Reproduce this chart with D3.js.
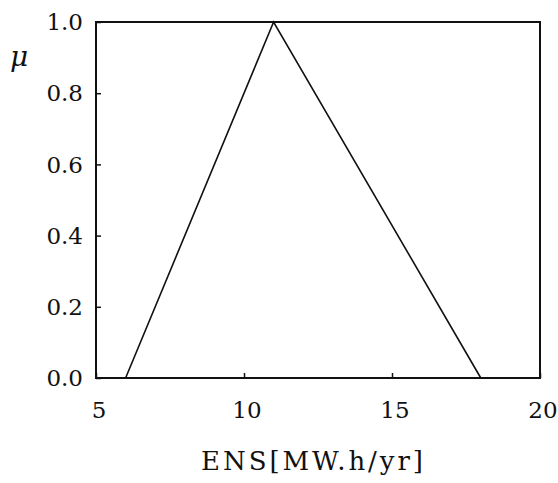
<!DOCTYPE html>
<html><head><meta charset="utf-8">
<script src="https://cdn.jsdelivr.net/npm/d3@7"></script>
<style>html,body{margin:0;padding:0;background:#fff;}svg{display:block;}</style>
</head><body>
<script>
const ensValues = [6, 11, 18];
const muValues = [0, 1, 0];
const xTicks = [5, 10, 15, 20];
const yTicks = [0, 0.2, 0.4, 0.6, 0.8, 1.0];
const xTitle = "ENS[MW.h/yr]";
const yTitle = "\u03bc";

const W = 558, H = 483;
const m = {left: 96, right: 18, top: 22, bottom: 105};
const svg = d3.select("body").append("svg").attr("width", W).attr("height", H);
const x = d3.scaleLinear().domain([5, 20]).range([m.left, W - m.right]);
const y = d3.scaleLinear().domain([0, 1]).range([H - m.bottom, m.top]);
const font = "'DejaVu Serif', serif";

// frame
svg.append("rect").attr("x", x(5)).attr("y", y(1))
  .attr("width", x(20) - x(5)).attr("height", y(0) - y(1))
  .attr("fill", "none").attr("stroke", "#111").attr("stroke-width", 2);

// y axis
const ya = svg.append("g").attr("transform", `translate(${x(5)},0)`)
  .call(d3.axisRight(y).tickValues(yTicks).tickSize(5).tickFormat(""));
ya.select(".domain").remove();
ya.selectAll("line").attr("stroke", "#111").attr("stroke-width", 1.5);
svg.selectAll(".ylab").data(yTicks).enter().append("text")
  .attr("x", x(5) - 13).attr("y", d => y(d)).attr("dy", "0.36em")
  .attr("text-anchor", "end").attr("font-family", font).attr("font-size", 23)
  .attr("fill", "#111").text(d => d3.format(".1f")(d));

// x axis
const xa = svg.append("g").attr("transform", `translate(0,${y(0)})`)
  .call(d3.axisTop(x).tickValues(xTicks).tickSize(5).tickFormat(""));
xa.select(".domain").remove();
xa.selectAll("line").attr("stroke", "#111").attr("stroke-width", 1.5);
svg.selectAll(".xlab").data(xTicks).enter().append("text")
  .attr("x", d => x(d) + 3).attr("y", 418)
  .attr("text-anchor", "middle").attr("font-family", font).attr("font-size", 23)
  .attr("fill", "#111").text(d => d);

// titles
svg.append("text").attr("x", 312).attr("y", 470).attr("text-anchor", "middle")
  .attr("font-family", font).attr("font-size", 26).attr("fill", "#111")
  .attr("textLength", 222).attr("lengthAdjust", "spacing").text(xTitle);
svg.append("text").attr("x", 19).attr("y", 66).attr("text-anchor", "middle")
  .attr("font-family", font).attr("font-size", 28).attr("font-style", "italic")
  .attr("fill", "#111").text(yTitle);

// membership line
const pts = ensValues.map((v, i) => [v, muValues[i]]);
svg.append("path").datum(pts)
  .attr("d", d3.line().x(d => x(d[0])).y(d => y(d[1])))
  .attr("fill", "none").attr("stroke", "#111").attr("stroke-width", 1.6);
</script>
</body></html>
